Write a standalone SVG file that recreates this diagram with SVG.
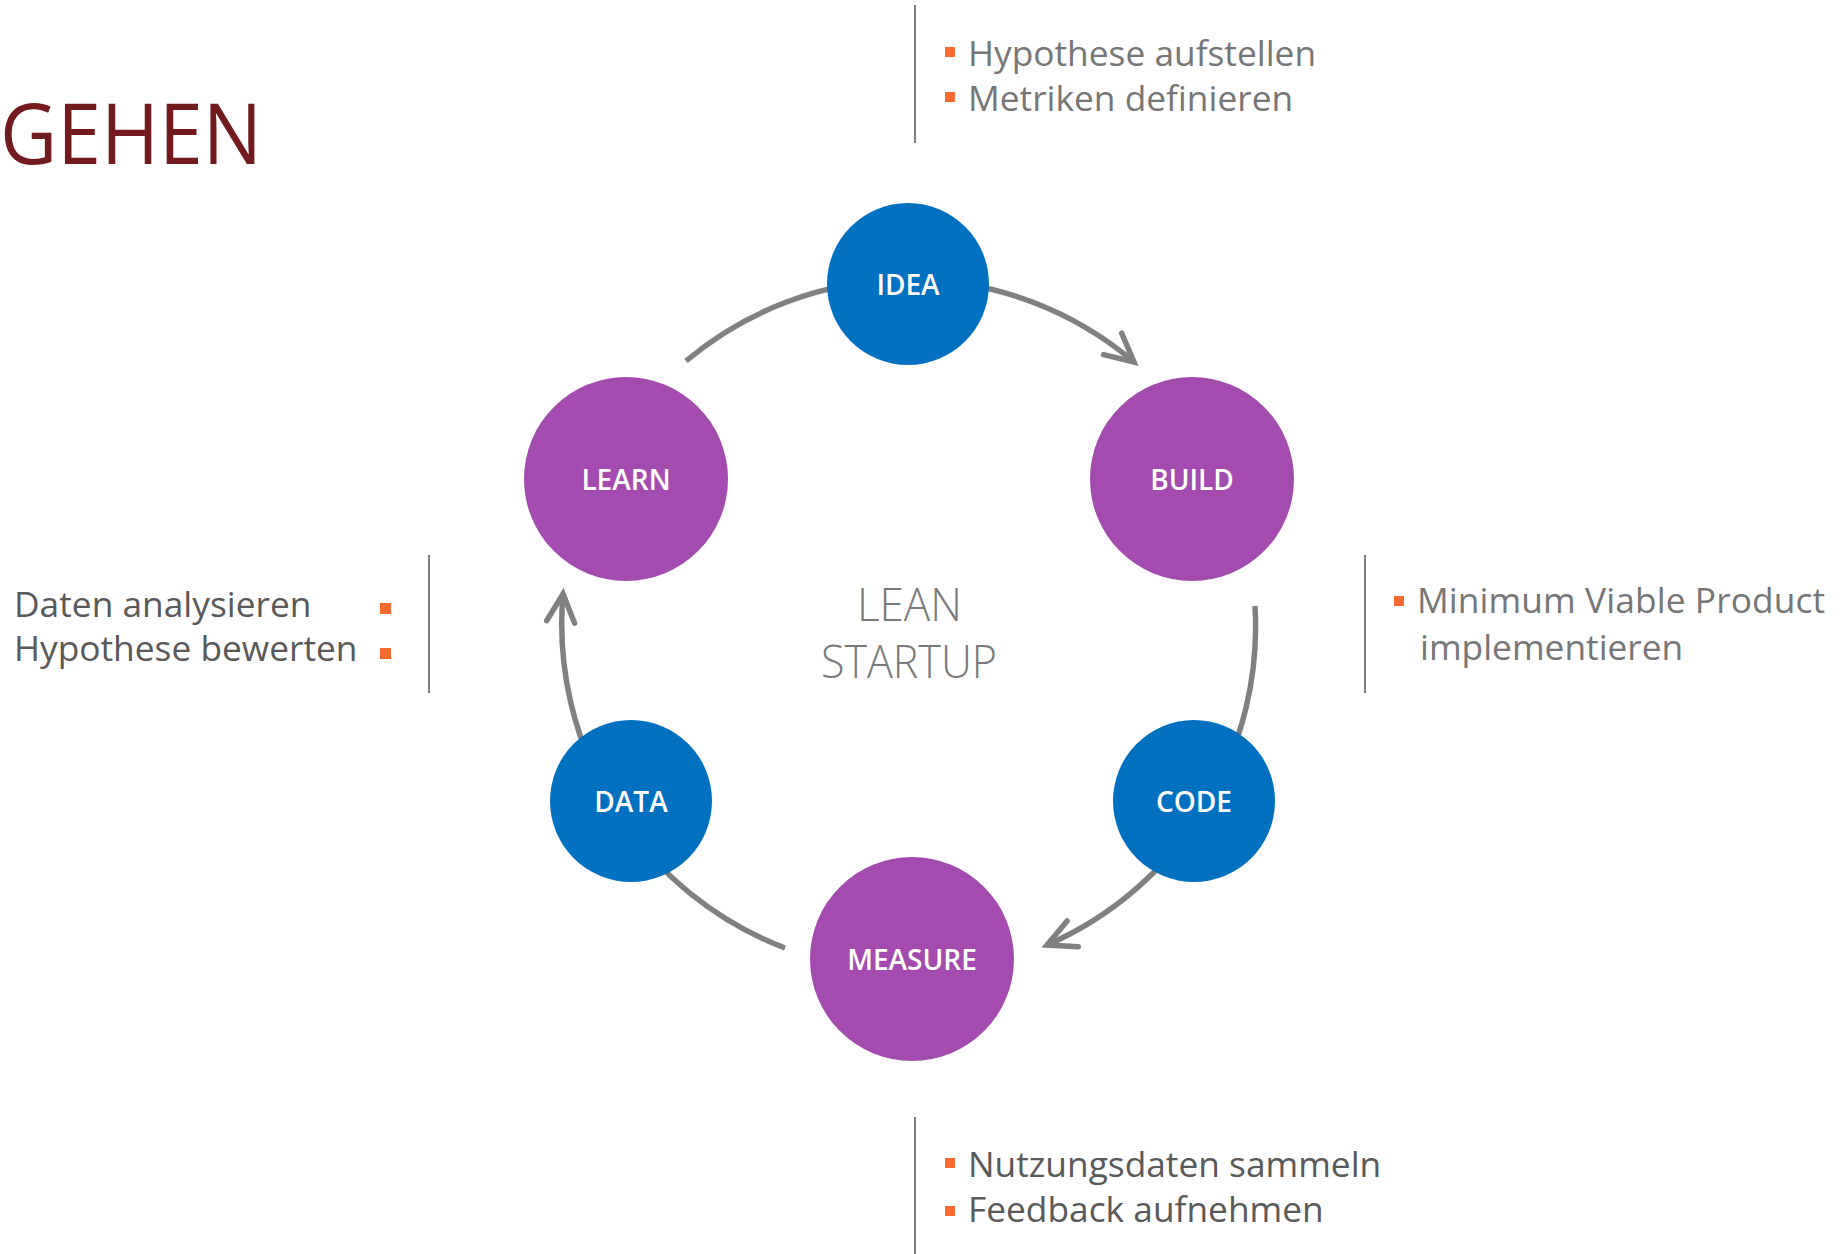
<svg xmlns="http://www.w3.org/2000/svg" width="1842" height="1254" viewBox="0 0 1842 1254">
  <defs>
    <marker id="arrow" markerUnits="userSpaceOnUse" markerWidth="60" markerHeight="60" refX="0" refY="0" viewBox="-40 -30 60 60" orient="auto" overflow="visible">
      <path d="M -28,-14 L 0,0 L -28,14" fill="none" stroke="#808080" stroke-width="5.5" stroke-linecap="round" stroke-linejoin="miter"/>
    </marker>
    <style>
      .arc { fill: none; stroke: #808080; stroke-width: 5.5; stroke-linecap: butt; }
      .blue { fill: #0070C0; }
      .purple { fill: #A34BAF; }
      .label { font-family: "Open Sans", "Noto Sans", "Liberation Sans", sans-serif; font-weight: 600; font-size: 28px; fill: #FFFFFF; text-anchor: middle; }
      .body { font-family: "Open Sans", "Noto Sans", "Liberation Sans", sans-serif; font-size: 35.3px; }
      .light { fill: #767676; }
      .dark { fill: #595959; }
      .bullet { fill: #F86A2E; }
      .sep { stroke: #808080; stroke-width: 2; }
      .title { font-family: "Open Sans", "Noto Sans", "Liberation Sans", sans-serif; font-size: 84px; fill: #721A1E; }
      .center { font-family: "Open Sans", "Noto Sans", "Liberation Sans", sans-serif; font-weight: 300; font-size: 46px; fill: #7A7A7A; text-anchor: middle; }
    </style>
  </defs>

  <g id="title">
    <text class="title" x="0" y="164" textLength="262" lengthAdjust="spacingAndGlyphs">GEHEN</text>
  </g>

  <g id="connectors">
    <path class="arc" d="M 686,361 A 347,347 0 0 1 1134,362" marker-end="url(#arrow)"/>
    <path class="arc" d="M 1255,606 A 347,347 0 0 1 1047,945" marker-end="url(#arrow)"/>
    <path class="arc" d="M 785,948 A 347,347 0 0 1 563,594" marker-end="url(#arrow)"/>
  </g>

  <g id="node-idea">
    <circle class="blue" cx="908" cy="284" r="81"/>
    <text class="label" x="908" y="295">IDEA</text>
  </g>
  <g id="node-build">
    <circle class="purple" cx="1192" cy="479" r="102"/>
    <text class="label" x="1192" y="490">BUILD</text>
  </g>
  <g id="node-code">
    <circle class="blue" cx="1194" cy="801" r="81"/>
    <text class="label" x="1194" y="812">CODE</text>
  </g>
  <g id="node-measure">
    <circle class="purple" cx="912" cy="959" r="102"/>
    <text class="label" x="912" y="970">MEASURE</text>
  </g>
  <g id="node-data">
    <circle class="blue" cx="631" cy="801" r="81"/>
    <text class="label" x="631" y="812">DATA</text>
  </g>
  <g id="node-learn">
    <circle class="purple" cx="626" cy="479" r="102"/>
    <text class="label" x="626" y="490">LEARN</text>
  </g>

  <g id="center-label">
    <text class="center" x="909.5" y="621" textLength="105" lengthAdjust="spacingAndGlyphs">LEAN</text>
    <text class="center" x="909" y="678" textLength="176" lengthAdjust="spacingAndGlyphs">STARTUP</text>
  </g>

  <g id="notes-top">
    <line class="sep" x1="915" y1="5" x2="915" y2="143"/>
    <rect class="bullet" x="945" y="47" width="10" height="10"/>
    <rect class="bullet" x="945" y="92" width="10" height="10"/>
    <text class="body light" x="968" y="66">Hypothese aufstellen</text>
    <text class="body light" x="968" y="111">Metriken definieren</text>
  </g>

  <g id="notes-left">
    <line class="sep" x1="429" y1="555" x2="429" y2="693"/>
    <text class="body dark" x="14" y="617">Daten analysieren</text>
    <text class="body dark" x="14" y="661">Hypothese bewerten</text>
    <rect class="bullet" x="380" y="603" width="11" height="11"/>
    <rect class="bullet" x="380" y="648" width="11" height="11"/>
  </g>

  <g id="notes-right">
    <line class="sep" x1="1365" y1="555" x2="1365" y2="693"/>
    <rect class="bullet" x="1394" y="596" width="10" height="10"/>
    <text class="body light" x="1417" y="613" textLength="408" lengthAdjust="spacing">Minimum Viable Product</text>
    <text class="body light" x="1420" y="660">implementieren</text>
  </g>

  <g id="notes-bottom">
    <line class="sep" x1="915" y1="1117" x2="915" y2="1254"/>
    <rect class="bullet" x="945" y="1158" width="10" height="10"/>
    <rect class="bullet" x="945" y="1206" width="10" height="10"/>
    <text class="body dark" x="968" y="1177">Nutzungsdaten sammeln</text>
    <text class="body dark" x="968" y="1222">Feedback aufnehmen</text>
  </g>
</svg>
